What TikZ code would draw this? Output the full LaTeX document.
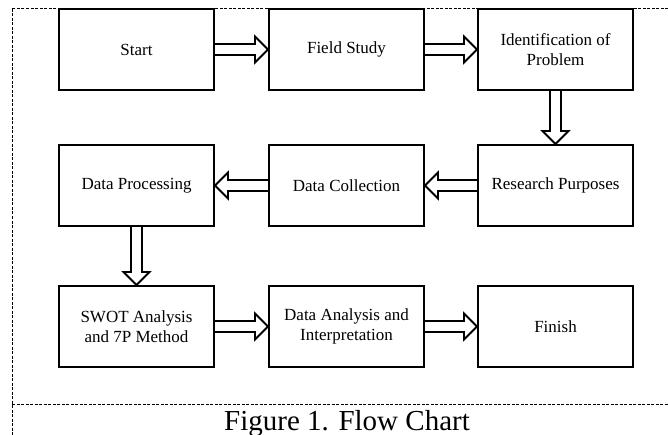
\documentclass[tikz,border=0pt]{standalone}
\usepackage{fontspec}
\setmainfont{Liberation Serif}
\usetikzlibrary{calc}
\tikzset{
	stepbox/.style={draw,line width=2pt,minimum width=155pt,minimum height=81pt,align=center,inner sep=2pt},
	hollow/.style={line width=1.8pt,line join=miter,to path={let \p1=(\tikztostart),\p2=(\tikztotarget),\n1={atan2(\y2-\y1,\x2-\x1)},\n2={veclen(\x2-\x1,\y2-\y1)} in ++(\n1+90:5.5pt) -- ++(\n1:\n2-13pt) -- ++(\n1+90:7.5pt) -- (\p2) -- ($(\p2)+(\n1+180:13pt)+(\n1-90:13pt)$) -- ++(\n1+90:7.5pt) -- ++(\n1+180:\n2-13pt)}},
	frame/.style={line width=0.7pt,dash pattern=on 3pt off 1.5pt}
}
\begin{document}
\begin{tikzpicture}[x=1pt,y=-1pt,font=\fontsize{17}{20}\selectfont]
				\useasboundingbox (0,0) rectangle (668,435);
				\draw[frame] (668,8)--(12,8)--(12,435);
				\draw[frame] (12,404)--(668,404);
				\node[stepbox] (start) at (136.5,49.5) {Start};
				\node[stepbox] (field) at (346.5,49.5) {Field Study};
				\node[stepbox] (ident) at (555.5,49.5) {Identification of\\Problem};
				\node[stepbox] (purpose) at (555.5,185.5) {Research Purposes};
				\node[stepbox] (collect) at (346.5,185.5) {Data Collection};
				\node[stepbox] (process) at (136.5,185.5) {Data Processing};
				\node[stepbox] (swot) at (136.5,326.5) {SWOT Analysis\\and 7P Method};
				\node[stepbox] (analysis) at (346.5,326.5) {Data Analysis and\\Interpretation};
				\node[stepbox] (finish) at (555.5,326.5) {Finish};
				\draw[hollow] (start.east) to (field.west);
				\draw[hollow] (field.east) to (ident.west);
				\draw[hollow] (ident.south) to (purpose.north);
				\draw[hollow] (purpose.west) to (collect.east);
				\draw[hollow] (collect.west) to (process.east);
				\draw[hollow] (process.south) to (swot.north);
				\draw[hollow] (swot.east) to (analysis.west);
				\draw[hollow] (analysis.east) to (finish.west);
				\node[anchor=base,font=\fontsize{29}{34}\selectfont] (caption) at (347,430) {Figure 1. Flow Chart};
			\end{tikzpicture}
\end{document}
